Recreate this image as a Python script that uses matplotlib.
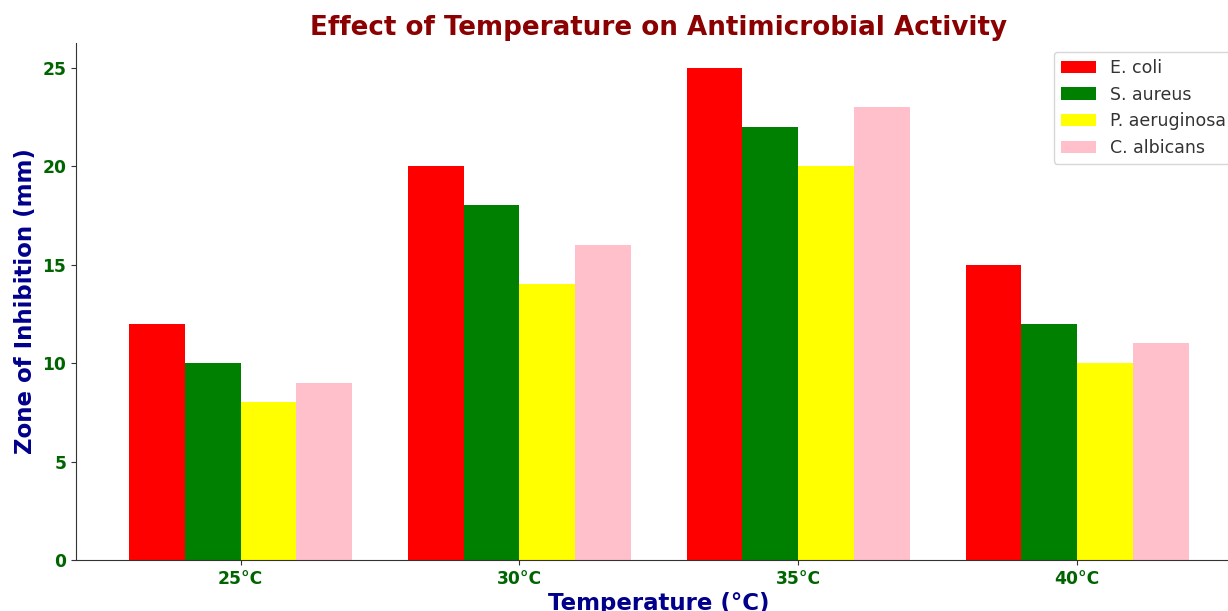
import matplotlib
matplotlib.use("Agg")
import matplotlib.pyplot as plt
import numpy as np

temperatures = ["25°C", "30°C", "35°C", "40°C"]
organisms = ["E. coli", "S. aureus", "P. aeruginosa", "C. albicans"]
colors = ["red", "green", "yellow", "pink"]

e_coli = [12, 20, 25, 15]
s_aureus = [10, 18, 22, 12]
p_aeruginosa = [8, 14, 20, 10]
c_albicans = [9, 16, 23, 11]
values = [e_coli, s_aureus, p_aeruginosa, c_albicans]

W, H = 1228, 611
fig = plt.figure(figsize=(W / 100, H / 100), dpi=100)
# axes run slightly past the right edge, as in the cropped original
ax = fig.add_axes([76 / W, 51 / H, (1241.6 - 76) / W, (560 - 43) / H])

x = np.arange(len(temperatures))
width = 0.2
for i, (name, vals, c) in enumerate(zip(organisms, values, colors)):
    ax.bar(x + (i - 1.5) * width, vals, width, label=name, color=c)

ax.set_xticks(x)
ax.set_xticklabels(temperatures)
ax.set_title("Effect of Temperature on Antimicrobial Activity",
             fontsize=18.8, fontweight="bold", color="darkred")
ax.set_xlabel("Temperature (°C)", fontsize=16.5, fontweight="bold", color="darkblue",
              labelpad=3)
ax.set_ylabel("Zone of Inhibition (mm)", fontsize=16.5, fontweight="bold", color="darkblue")

for lab in ax.get_xticklabels() + ax.get_yticklabels():
    lab.set_fontsize(12.3)
    lab.set_fontweight("bold")
    lab.set_color("darkgreen")

ax.spines["top"].set_visible(False)
ax.spines["right"].set_visible(False)
ax.spines["left"].set_color("#333333")
ax.spines["bottom"].set_color("#333333")
ax.tick_params(colors="#333333", labelcolor="darkgreen")

leg = fig.legend(loc="upper left", bbox_to_anchor=(1054 / W, 1 - 52 / H),
                 borderaxespad=0, fontsize=12.5)
for t in leg.get_texts():
    t.set_color("#333333")

fig.savefig("out.png", dpi=100)
